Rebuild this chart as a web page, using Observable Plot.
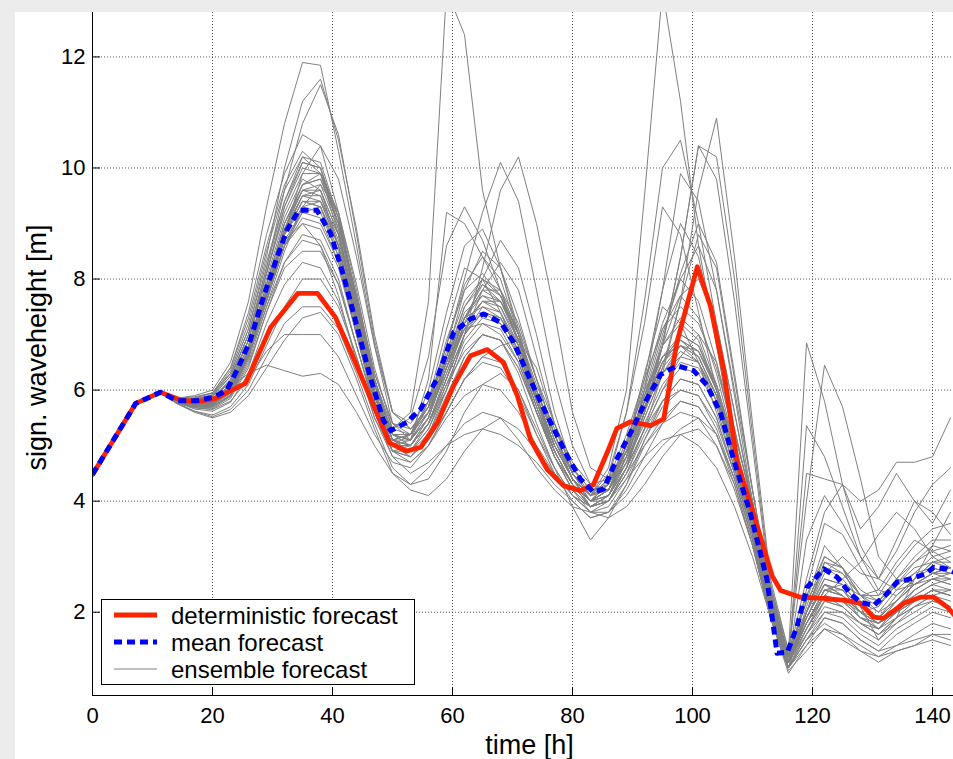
<!DOCTYPE html>
<html>
<head>
<meta charset="utf-8">
<script src="https://cdn.jsdelivr.net/npm/d3@7"></script>
<script src="https://cdn.jsdelivr.net/npm/@observablehq/plot@0.6"></script>
<style>
  html, body { margin: 0; padding: 0; background: #ececec; width: 953px; height: 759px; overflow: hidden; }
  #panel { position: absolute; left: 15px; top: 12px; width: 938px; height: 747px; background: #fff; }
  #legend { position: absolute; left: 101px; top: 599px; width: 312px; height: 84px; border: 1px solid #000; background: #fff; }
  #legend text { font-family: "Liberation Sans", Arial, sans-serif; font-size: 24px; fill: #000; }
</style>
</head>
<body>
<div id="panel"></div>
<div id="legend"></div>
<script>
// ---- axes / ticks ----
const xDomain = [0, 143.5];
const yDomain = [0.5, 12.8];
const xTicks = [0, 20, 40, 60, 80, 100, 120, 140];
const yTicks = [2, 4, 6, 8, 10, 12];
const xLabel = "time [h]";
const yLabel = "sign. waveheight [m]";
const legendLabels = ["deterministic forecast", "mean forecast", "ensemble forecast"];

// ---- deterministic forecast ----
const detT = [0,7.2,11.3,15,18,20.5,25.5,29.7,34.2,37.5,40.5,43.8,47.2,49.5,52.3,54.7,57.5,60.2,63,65.8,68.5,70.8,73,75.8,78.5,81.3,83.5,85.8,87.4,89.7,93,95.2,97.4,100.8,103,105.2,107.4,110.2,113.3,114.7,118,121.9,125.8,128,130.2,131.8,135.2,138,140.2,142.5,144];
const detV = [4.48,5.76,5.96,5.81,5.80,5.85,6.12,7.13,7.74,7.74,7.31,6.50,5.63,5.05,4.90,4.97,5.42,6.08,6.62,6.73,6.50,5.90,5.11,4.57,4.28,4.19,4.30,4.88,5.31,5.43,5.36,5.48,6.86,8.22,7.51,6.35,4.73,3.76,2.65,2.39,2.27,2.25,2.21,2.16,1.91,1.89,2.16,2.27,2.27,2.09,1.90];

// ---- mean forecast ----
const meanT = [0,7.2,11.3,14.1,17.4,20.2,22.4,24.1,26.3,28.5,30.8,32.4,34.4,37.4,39.7,41.9,44.1,46.3,48.5,49.7,52.4,54.7,57.4,60.2,63,65.2,68,70.2,72.4,74.7,76.9,79.1,81.3,83.5,85.2,87.4,89.7,92.4,94.7,97.4,100.2,102.4,104.7,106.9,109.7,112.4,114.1,115.8,117.4,119.1,121.9,124.1,126.3,128,130.2,132.4,134.1,136.3,138.9,140.2,142.4,144];
const meanV = [4.48,5.76,5.96,5.81,5.81,5.87,6.00,6.36,6.90,7.68,8.40,8.88,9.24,9.24,8.82,8.04,7.14,6.23,5.45,5.27,5.42,5.66,6.20,7.04,7.28,7.37,7.22,6.86,6.32,5.78,5.30,4.82,4.40,4.16,4.22,4.76,5.24,5.84,6.28,6.44,6.35,6.09,5.58,4.73,3.76,2.60,1.26,1.28,1.73,2.45,2.78,2.63,2.33,2.18,2.12,2.33,2.54,2.60,2.69,2.81,2.78,2.70];

// ---- ensemble forecast ----
const ensPrefixT = [0, 7.2, 11.3];
const ensPrefixV = [4.48, 5.76, 5.96];
const ensT = [14,17,20,23,26,29,32,35,38,41,44,47,50,53,56,59,62,65,68,71,74,77,80,83,86,89,92,95,98,101,104,107,110,113,116,119,122,125,128,131,134,137,140,143];
const ensemble = [
[5.85,5.90,6.00,6.50,7.60,9.30,10.80,11.90,11.85,10.30,8.60,6.80,5.40,5.10,5.60,6.60,7.50,7.90,7.60,6.90,6.00,5.20,4.50,4.10,4.30,5.00,5.80,6.50,6.90,6.60,5.90,4.80,3.60,2.00,1.20,2.20,2.80,2.60,2.20,2.00,2.40,2.70,3.00,3.10],
[5.82,5.85,5.95,6.30,7.10,8.40,10.00,11.20,11.60,10.50,8.90,7.00,5.60,5.30,5.70,6.90,7.80,8.10,7.70,6.90,5.90,5.00,4.40,4.00,4.20,4.90,5.90,6.80,7.20,6.90,6.00,4.90,3.70,2.20,1.10,1.90,2.50,2.40,2.00,1.80,2.10,2.30,2.50,2.60],
[5.80,5.75,5.80,6.10,6.90,8.00,9.10,9.80,9.60,8.60,7.20,5.90,5.30,5.60,7.60,13.20,12.40,9.60,8.20,7.00,6.00,5.10,4.40,4.00,4.30,5.10,6.00,6.60,6.80,6.50,5.80,4.70,3.50,2.00,1.20,2.30,3.00,2.80,2.30,2.10,2.50,2.80,2.90,2.80],
[5.83,5.80,5.85,6.20,7.00,8.20,9.40,10.20,10.10,9.10,7.60,6.20,5.20,5.10,5.50,6.40,7.10,7.40,7.30,6.80,5.90,5.00,4.40,4.10,4.60,6.00,9.50,13.20,11.20,8.60,6.80,5.00,3.60,2.10,1.10,1.70,2.20,2.10,1.80,1.60,1.90,2.20,2.40,2.30],
[5.78,5.70,5.70,5.90,6.60,7.60,8.60,9.30,9.40,8.80,7.50,6.10,5.20,5.00,5.40,6.00,7.00,8.20,9.60,10.20,9.00,7.40,5.60,4.60,4.40,4.80,5.60,6.40,7.60,9.60,10.90,8.40,5.40,2.60,1.30,2.00,2.60,2.50,2.10,1.90,2.20,2.60,2.80,2.70],
[5.80,5.72,5.75,6.00,6.70,7.80,8.90,9.60,9.70,8.90,7.40,6.00,5.10,5.20,5.80,6.80,8.00,9.20,10.10,9.40,7.80,6.20,5.00,4.30,4.20,4.70,5.60,6.80,8.40,10.40,9.80,7.60,5.00,2.40,1.20,1.80,2.40,2.30,2.00,1.70,2.00,2.40,2.60,2.50],
[5.80,5.75,5.85,6.05,6.30,6.45,6.35,6.25,6.30,6.10,5.60,5.00,4.50,4.30,4.60,5.00,5.40,5.60,5.50,5.10,4.60,4.20,3.90,3.80,4.00,4.40,4.80,5.10,5.20,5.00,4.60,3.90,3.00,1.90,1.00,1.50,1.80,1.60,1.30,1.20,1.40,1.50,1.60,1.50],
[5.78,5.68,5.65,5.80,6.20,6.70,7.00,7.00,7.00,6.60,5.90,5.20,4.70,4.60,5.00,5.60,6.20,6.50,6.40,5.90,5.20,4.60,4.10,3.90,4.10,4.60,5.30,6.00,6.40,6.30,5.70,4.60,3.40,2.00,1.10,1.60,2.00,1.90,1.60,1.40,1.70,1.90,2.10,2.00],
[5.85,5.88,5.95,6.40,7.40,8.80,9.90,10.60,10.40,9.20,7.60,6.20,5.30,5.50,6.60,8.60,9.30,8.70,7.80,6.80,5.80,5.00,4.40,4.10,4.40,5.20,6.20,7.10,7.50,7.20,6.40,5.20,4.00,2.50,1.30,6.85,5.80,4.30,3.20,2.60,2.40,2.50,2.70,2.80],
[5.82,5.78,5.80,6.10,6.80,7.90,9.00,9.70,9.80,9.00,7.70,6.30,5.40,5.30,5.70,6.50,7.30,7.70,7.60,7.00,6.10,5.30,4.60,4.20,4.30,4.90,5.80,6.60,7.00,6.80,6.10,5.00,3.80,2.30,1.20,4.00,6.45,5.70,4.40,3.00,2.60,2.50,2.60,2.70],
[5.80,5.70,5.72,5.95,6.60,7.70,8.80,9.50,9.50,8.70,7.30,6.00,5.10,5.00,5.40,6.20,7.00,7.40,7.30,6.70,5.80,5.00,4.40,4.00,4.10,4.70,5.50,6.30,6.70,6.50,5.80,4.70,3.60,2.10,1.10,5.36,4.80,3.90,3.00,2.40,2.30,2.60,2.90,3.00],
[5.84,5.82,5.90,6.25,7.00,8.10,9.20,9.90,9.90,9.10,7.70,6.30,5.40,5.20,5.60,6.40,7.20,7.60,7.50,6.90,6.00,5.20,4.50,4.10,4.20,4.80,5.70,6.50,6.90,6.70,6.00,4.90,3.70,2.20,1.20,4.50,4.40,4.30,4.00,4.20,4.70,4.70,4.80,5.50],
[5.79,5.72,5.74,6.00,6.70,7.80,8.90,9.50,9.60,8.80,7.40,6.00,5.10,5.00,5.40,6.20,7.00,7.40,7.20,6.60,5.70,4.90,4.30,4.00,4.40,5.60,7.60,10.00,10.50,9.00,7.20,5.60,4.00,2.30,1.10,1.80,2.30,2.20,1.90,1.70,2.00,2.30,2.50,2.40],
[5.81,5.76,5.78,6.05,6.75,7.90,9.00,9.60,9.50,8.60,7.20,5.90,5.00,5.00,5.50,6.40,7.30,7.80,7.80,7.20,6.20,5.20,4.40,3.90,4.00,4.60,5.60,6.80,8.40,10.40,10.20,8.00,5.20,2.50,1.20,1.90,2.50,2.40,2.00,1.80,2.20,2.50,2.70,2.60],
[5.83,5.80,5.84,6.15,6.90,8.10,9.30,10.10,10.00,9.00,7.50,6.10,5.20,5.10,6.20,9.20,9.00,8.40,7.80,7.00,6.00,5.10,4.50,4.10,4.30,5.00,5.90,6.60,6.90,6.70,6.00,4.90,3.70,2.20,1.20,1.90,2.60,2.50,2.10,1.90,2.20,2.50,2.70,2.70],
[5.76,5.60,5.50,5.60,5.90,6.40,6.90,7.30,7.40,7.00,6.20,5.30,4.50,4.20,4.10,4.40,4.90,5.30,5.50,5.30,4.90,4.50,4.10,3.80,3.70,3.90,4.30,4.80,5.20,5.30,5.00,4.30,3.20,1.90,1.00,1.40,1.70,1.50,1.30,1.10,1.30,1.40,1.50,1.40],
[5.77,5.62,5.55,5.70,6.10,6.80,7.50,8.00,8.00,7.50,6.60,5.60,4.80,4.50,4.70,5.00,5.20,5.30,5.20,5.00,4.70,4.30,4.00,3.70,3.80,4.20,4.80,5.40,5.80,5.70,5.20,4.40,3.30,2.00,1.00,1.50,1.90,1.80,1.50,1.30,1.60,1.80,2.00,1.90],
[5.80,5.74,5.76,6.00,6.60,7.60,8.60,9.20,9.30,8.60,7.20,5.90,5.00,4.80,5.10,5.80,6.60,7.00,6.90,6.30,5.40,4.60,3.90,3.30,3.70,4.30,5.10,5.80,6.20,6.10,5.50,4.50,3.40,2.00,1.00,1.60,2.10,2.00,1.70,1.50,1.80,2.00,2.20,2.10],
[5.82,5.80,5.82,6.10,6.70,7.60,8.80,9.90,10.40,9.80,8.40,6.80,5.60,5.30,5.60,6.30,7.10,7.60,7.60,7.10,6.20,5.40,4.70,4.30,4.40,4.90,5.70,6.40,6.80,6.70,6.10,5.00,3.80,2.30,1.20,1.80,2.40,2.40,2.10,1.90,2.30,2.60,2.90,2.90],
[5.84,5.84,5.92,6.35,7.20,8.50,9.60,10.20,9.90,8.80,7.20,5.90,5.10,5.10,5.60,6.60,7.80,8.50,8.20,7.30,6.20,5.20,4.50,4.10,4.30,5.00,6.10,7.20,8.00,7.60,6.50,5.10,3.80,2.20,1.10,2.00,2.90,2.80,2.40,2.20,2.60,3.00,3.30,3.30],
[5.80,5.76,5.80,6.05,6.70,7.70,8.60,9.00,8.90,8.20,7.00,5.80,5.00,5.20,6.00,7.40,8.60,8.90,8.20,7.10,5.90,5.00,4.40,4.10,4.50,5.60,7.20,9.30,8.80,7.40,6.00,4.70,3.50,2.10,1.10,1.70,2.30,2.20,1.90,1.70,2.10,2.40,2.60,2.60],
[5.81,5.74,5.76,6.00,6.65,7.70,8.80,9.40,9.30,8.50,7.10,5.80,5.00,4.90,5.30,6.10,6.90,7.30,7.20,6.60,5.70,4.90,4.30,3.90,4.10,4.80,6.00,7.80,9.90,9.40,7.80,6.00,4.20,2.40,1.20,2.00,2.80,2.70,2.30,2.30,2.80,3.20,3.50,3.60],
[5.79,5.70,5.68,5.88,6.45,7.40,8.20,8.50,8.50,7.90,6.80,5.70,4.90,4.80,5.20,6.00,7.00,7.80,8.30,7.80,6.60,5.40,4.60,4.20,4.20,4.70,5.40,6.10,6.50,6.40,5.80,4.80,3.60,2.10,1.10,2.40,3.60,3.40,2.80,2.30,2.50,2.90,3.20,3.10],
[5.80,5.72,5.72,5.95,6.60,7.70,8.80,9.40,9.30,8.40,7.00,5.70,4.90,4.70,5.00,5.50,5.90,6.10,6.00,5.60,5.00,4.50,4.10,3.90,4.10,4.60,5.30,6.00,6.60,7.00,6.50,5.30,3.90,2.20,1.00,1.60,2.20,2.10,1.80,1.60,1.90,2.10,2.30,2.20],
[5.83,5.78,5.80,6.05,6.60,7.50,8.50,9.30,9.70,9.20,7.90,6.40,5.30,5.20,5.60,6.50,7.50,8.00,7.80,7.00,5.90,5.00,4.40,4.00,4.20,4.90,5.90,7.00,8.00,8.60,7.80,5.90,4.00,2.30,1.10,1.90,2.50,2.30,1.90,1.80,2.10,2.40,2.60,2.50],
[5.80,5.70,5.70,5.92,6.55,7.70,8.90,9.70,9.90,9.20,7.80,6.20,5.10,4.90,5.20,5.90,6.60,7.00,6.90,6.40,5.60,4.80,4.20,3.80,3.80,4.10,4.60,5.00,5.30,5.50,5.20,4.40,3.30,1.90,0.95,1.30,1.70,1.60,1.40,1.20,1.30,1.40,1.60,1.60],
[5.78,5.68,5.66,5.85,6.40,7.40,8.30,8.80,8.70,8.00,6.80,5.70,4.90,4.90,5.40,6.30,7.20,7.60,7.40,6.70,5.70,4.80,4.20,3.90,4.00,4.50,5.20,5.80,6.20,6.10,5.50,4.50,3.40,2.00,1.00,1.70,2.30,2.60,2.90,3.40,3.80,3.50,3.00,2.80],
[5.81,5.75,5.77,6.00,6.60,7.60,8.60,9.10,9.00,8.30,7.00,5.80,5.00,5.00,5.40,6.20,7.20,8.00,8.70,8.20,7.00,5.60,4.60,4.10,4.20,5.00,6.30,7.50,7.20,6.50,5.60,4.60,3.50,2.10,1.10,2.00,2.70,3.00,2.70,2.60,3.30,4.00,3.80,3.40],
[5.84,5.83,5.90,6.30,7.10,8.30,9.40,10.10,10.00,9.10,7.60,6.10,5.20,5.10,5.50,6.40,7.30,7.80,7.60,6.90,5.90,5.00,4.40,4.00,4.20,5.00,6.20,7.80,9.00,8.40,6.90,5.30,3.90,2.30,1.20,2.20,3.20,2.80,2.10,1.50,1.90,2.60,3.20,3.80],
[5.78,5.66,5.62,5.78,6.30,7.20,7.90,8.30,8.20,7.60,6.60,5.50,4.80,4.70,5.00,5.60,6.20,6.60,6.50,6.00,5.20,4.50,4.00,3.70,3.80,4.30,5.00,5.50,5.80,5.70,5.20,4.30,3.20,1.90,0.90,1.40,1.90,1.80,1.50,1.30,1.40,1.60,1.80,1.70],
[5.82,5.76,5.78,6.02,6.65,7.75,8.85,9.50,9.40,8.60,7.20,5.90,5.00,5.00,5.50,6.50,7.40,7.70,7.50,6.80,5.80,4.90,4.30,3.90,4.10,4.80,6.00,7.10,7.70,7.30,6.30,5.00,3.70,2.20,1.10,1.90,2.50,2.30,2.00,2.10,2.60,2.90,3.10,3.20],
[5.76,5.62,5.52,5.65,6.00,6.60,7.20,7.50,7.50,7.10,6.30,5.40,4.60,4.30,4.40,4.90,5.60,6.10,6.30,6.00,5.30,4.60,4.10,3.80,3.90,4.40,5.10,5.70,6.00,5.90,5.30,4.40,3.30,2.00,1.00,1.50,2.00,2.00,1.80,1.70,1.90,2.10,2.20,2.10],
[5.85,5.86,5.95,6.40,7.30,8.60,9.70,10.30,10.00,8.90,7.30,5.90,5.10,5.20,5.70,6.50,7.10,7.20,7.00,6.50,5.60,4.80,4.30,4.00,4.20,4.80,5.70,6.30,6.60,6.50,5.90,4.80,3.60,2.10,1.10,1.80,2.30,2.10,1.80,1.60,1.80,2.10,2.30,2.40],
[5.80,5.72,5.74,5.98,6.60,7.70,8.70,9.20,9.10,8.30,7.00,5.80,5.00,5.10,5.80,7.10,8.20,8.00,7.40,6.60,5.60,4.80,4.30,4.00,4.10,4.70,5.80,6.80,7.30,7.00,6.10,4.90,3.70,2.20,1.10,1.80,2.40,2.50,2.30,2.20,2.50,2.70,2.80,2.70],
[5.83,5.82,5.88,6.25,7.00,8.20,9.60,10.80,11.50,10.60,8.80,6.90,5.60,5.40,5.80,6.60,7.30,7.50,7.30,6.70,5.80,5.00,4.40,4.10,4.30,4.90,5.80,6.50,6.80,6.60,5.90,4.80,3.60,2.10,1.10,1.80,2.40,2.30,2.00,1.90,2.20,2.50,2.70,2.80],
[5.79,5.70,5.70,5.90,6.50,7.50,8.30,8.70,8.60,7.90,6.80,5.70,4.90,4.80,5.10,5.60,6.20,6.60,6.80,6.90,6.40,5.40,4.50,4.00,4.00,4.50,5.30,6.30,7.60,8.80,8.20,6.20,4.20,2.40,1.20,1.80,2.30,2.20,1.90,1.80,2.00,2.20,2.40,2.30],
[5.82,5.77,5.80,6.10,6.80,7.90,9.00,9.70,9.80,9.00,7.60,6.20,5.20,5.20,5.70,6.70,7.60,8.00,7.70,6.90,5.80,4.90,4.30,4.00,4.10,4.60,5.30,5.80,6.00,5.90,5.40,4.50,3.40,2.00,1.00,2.00,2.90,2.70,2.30,2.40,2.90,3.30,3.10,2.90],
[5.81,5.74,5.75,6.00,6.70,7.80,8.70,9.00,8.60,7.70,6.50,5.50,4.90,5.00,5.40,6.10,6.70,7.00,6.90,6.40,5.60,4.80,4.20,3.90,4.00,4.60,5.60,6.80,7.70,8.00,7.20,5.60,3.90,2.20,1.10,1.70,2.20,2.20,2.00,1.80,2.00,2.20,2.40,2.30],
[5.80,5.73,5.74,5.98,6.60,7.70,8.80,9.30,9.20,8.40,7.10,5.90,5.10,5.20,5.70,6.80,7.90,8.40,8.00,7.00,5.80,4.90,4.30,3.90,4.00,4.50,5.00,5.40,5.60,5.50,5.00,4.20,3.20,1.90,1.00,2.10,3.00,2.80,2.30,2.00,2.20,2.50,2.70,2.80],
[5.83,5.79,5.84,6.18,6.90,8.10,9.30,10.00,9.90,9.00,7.50,6.10,5.20,5.10,5.50,6.40,7.30,7.90,7.70,7.00,6.00,5.10,4.40,4.00,4.20,4.90,5.80,6.90,8.10,9.00,8.30,6.30,4.20,2.30,1.10,1.80,2.40,2.30,2.00,1.80,2.00,2.20,2.40,2.40],
[5.81,5.75,5.78,6.02,6.70,7.80,8.90,9.60,9.60,8.80,7.40,6.00,5.10,5.00,5.40,6.20,7.00,7.50,7.40,6.80,5.90,5.00,4.40,4.00,4.20,4.80,5.70,6.50,7.00,6.80,6.00,4.80,3.60,2.20,1.20,2.60,3.80,4.30,3.50,3.90,4.50,4.00,3.60,4.20],
[5.80,5.73,5.75,6.00,6.65,7.70,8.80,9.40,9.40,8.60,7.20,5.90,5.00,4.90,5.30,6.00,6.80,7.20,7.10,6.50,5.60,4.90,4.30,3.90,4.00,4.60,5.50,6.30,6.80,6.60,5.90,4.70,3.50,2.10,1.10,3.30,4.10,3.60,3.00,2.60,3.10,3.80,4.30,4.60]
];

// ---- build tables ----
const ensRows = [];
ensemble.forEach((row, m) => {
  ensPrefixT.forEach((t, i) => ensRows.push({member: m, t, v: ensPrefixV[i]}));
  row.forEach((v, i) => ensRows.push({member: m, t: ensT[i], v}));
});
const detRows = detT.map((t, i) => ({t, v: detV[i]}));
const meanRows = meanT.map((t, i) => ({t, v: meanV[i]}));

const W = 938, H = 747, mL = 77, mR = 0, mT = 0, mB = 64;
const frameW = W - mL - mR, frameH = H - mT - mB;
const tickLen = 8;
const font = '"Liberation Sans", Arial, Helvetica, sans-serif';
const fmt = d => String(d);

const chart = Plot.plot({
  width: W, height: H,
  marginLeft: mL, marginRight: mR, marginTop: mT, marginBottom: mB,
  x: {domain: xDomain},
  y: {domain: yDomain},
  style: {fontFamily: font, fontSize: "22px", background: "#fff", color: "#000", overflow: "visible"},
  marks: [
    Plot.ruleX(xTicks.filter(d => d > xDomain[0]), {stroke: "#555", strokeDasharray: "1,2"}),
    Plot.ruleY(yTicks, {stroke: "#555", strokeDasharray: "1,2"}),
    Plot.line(ensRows, {x: "t", y: "v", z: "member", stroke: "#808080", strokeWidth: 1, clip: true}),
    Plot.line(detRows, {x: "t", y: "v", stroke: "#ff2400", strokeWidth: 4.8, strokeLinejoin: "round", clip: true}),
    Plot.line(meanRows, {x: "t", y: "v", stroke: "#0000ff", strokeWidth: 5, strokeDasharray: "8,5", strokeLinecap: "butt", clip: true}),
    Plot.ruleX([xDomain[0]], {stroke: "#000"}),
    Plot.ruleY([yDomain[0]], {stroke: "#000"}),
    Plot.tickX(xTicks, {x: d => d, insetTop: frameH - tickLen, stroke: "#000"}),
    Plot.tickY(yTicks, {y: d => d, insetRight: frameW - tickLen, stroke: "#000"}),
    Plot.axisX(xTicks, {tickSize: 0, tickPadding: 12, fontSize: 22, tickFormat: fmt, label: null}),
    Plot.axisY(yTicks, {tickSize: 0, tickPadding: 7, fontSize: 22, tickFormat: fmt, label: null}),
    Plot.text([xLabel], {text: d => d, frameAnchor: "bottom", textAnchor: "middle", lineAnchor: "bottom", dx: 6.5, dy: 58, fontSize: 27}),
    Plot.text([yLabel], {text: d => d, frameAnchor: "left", textAnchor: "middle", lineAnchor: "middle", rotate: -90, dx: -55.5, dy: -6.5, fontSize: 27})
  ]
});
document.getElementById("panel").appendChild(chart);

// ---- legend ----
const styles = [
  {stroke: "#ff2400", width: 4.8, dash: null},
  {stroke: "#0000ff", width: 5, dash: "8,5"},
  {stroke: "#808080", width: 1, dash: null}
];
const lg = d3.select("#legend").append("svg").attr("width", 312).attr("height", 84);
legendLabels.forEach((lab, i) => {
  const yLine = 15 + i * 27;
  const l = lg.append("line").attr("x1", 12).attr("x2", 55).attr("y1", yLine).attr("y2", yLine)
    .attr("stroke", styles[i].stroke).attr("stroke-width", styles[i].width);
  if (styles[i].dash) l.attr("stroke-dasharray", styles[i].dash);
  lg.append("text").attr("x", 69).attr("y", yLine + 8.5).text(lab);
});
</script>
</body>
</html>
